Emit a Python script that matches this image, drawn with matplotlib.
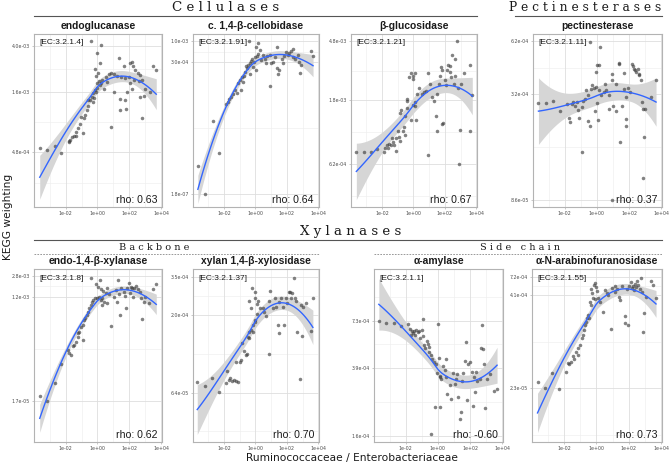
import numpy as np
import matplotlib
matplotlib.use("Agg")
import matplotlib.pyplot as plt
from matplotlib.lines import Line2D

# === Data (log10 of ratio, log10 of KEGG weighting) ===
endoglucanase_pts = [(-3.62, -3.28), (-3.15, -3.30), (-2.69, -3.26), (-2.28, -3.32), (-1.80, -3.22), (-1.70, -3.21),
    (-1.61, -3.19), (-1.49, -3.18), (-1.33, -3.18), (-1.76, -3.23), (-1.24, -3.11), (-1.35, -3.14), (-0.93, -3.15),
    (-1.10, -3.07), (-1.04, -3.01), (-0.87, -3.02), (-0.79, -3.00), (-0.66, -2.95), (-0.58, -2.92), (-0.62, -2.87),
    (-0.46, -2.87), (-0.37, -2.84), (-0.25, -2.81), (-0.10, -2.80), (-0.17, -2.78), (0.00, -2.76), (0.17, -2.74),
    (0.25, -2.72), (0.10, -2.70), (-0.04, -2.72), (0.31, -2.69), (-0.10, -2.66), (0.04, -2.63), (-0.17, -2.60),
    (0.17, -2.55), (0.00, -2.46), (0.21, -2.39), (-0.39, -2.36), (0.52, -2.67), (0.72, -2.64), (0.83, -2.63),
    (1.04, -2.64), (1.24, -2.66), (1.49, -2.67), (0.62, -2.71), (0.41, -2.77), (1.04, -2.80), (0.83, -3.10),
    (1.37, -2.50), (1.66, -2.57), (1.76, -2.68), (1.97, -2.67), (2.07, -2.55), (2.17, -2.54), (2.24, -2.57),
    (2.38, -2.61), (2.53, -2.63), (2.69, -2.65), (2.80, -2.69), (2.28, -2.69), (2.07, -2.72), (2.17, -2.77),
    (1.86, -2.80), (1.41, -2.86), (1.76, -2.87), (1.41, -2.95), (1.80, -2.94), (2.77, -3.02), (2.69, -2.84),
    (2.90, -2.83), (3.00, -2.77), (3.31, -2.80), (3.48, -2.57), (3.69, -2.61), (2.59, -2.70), (-0.21, -2.85),
    (-0.31, -2.88)]
cellobidase_pts = [(-3.67, -6.05), (-3.19, -6.73), (-2.73, -4.96), (-2.31, -5.75), (-1.87, -4.55), (-1.78, -4.49),
    (-1.66, -4.41), (-1.57, -4.37), (-1.45, -4.29), (-1.30, -4.20), (-1.19, -4.27), (-1.09, -4.04), (-0.99, -3.96),
    (-0.88, -3.89), (-0.73, -3.86), (-0.82, -4.00), (-0.94, -4.19), (-0.67, -3.75), (-0.57, -3.67), (-0.61, -3.61),
    (-0.46, -3.59), (-0.36, -3.53), (-0.27, -3.48), (-0.19, -3.45), (-0.10, -3.52), (-0.02, -3.40), (0.10, -3.37),
    (0.19, -3.32), (-0.44, -3.00), (0.17, -3.06), (0.02, -3.16), (0.27, -3.22), (0.38, -3.47), (0.06, -3.71),
    (0.59, -3.43), (0.73, -3.37), (0.90, -3.34), (0.90, -4.11), (1.15, -3.51), (1.24, -3.39), (1.36, -3.14),
    (1.36, -3.65), (1.53, -3.71), (1.43, -3.80), (1.70, -3.45), (1.84, -3.37), (1.95, -3.26), (2.05, -3.34),
    (2.16, -3.30), (2.26, -3.24), (2.37, -3.20), (2.41, -3.39), (2.54, -3.43), (2.68, -3.34), (2.75, -3.51),
    (2.83, -3.78), (2.89, -3.59), (3.52, -3.24), (3.67, -3.37), (1.74, -3.55), (1.01, -3.55), (0.48, -3.34),
    (0.69, -3.55), (-0.15, -3.63), (-0.36, -3.80)]
glucosidase_pts = [(-3.64, -3.12), (-3.16, -3.12), (-2.69, -3.12), (-2.32, -3.10), (-1.89, -3.12), (-1.81, -3.09),
    (-1.68, -3.07), (-1.60, -3.09), (-1.54, -3.06), (-1.43, -3.07), (-1.33, -3.05), (-1.22, -3.07), (-1.12, -3.11),
    (-1.39, -3.02), (-1.12, -3.02), (-0.91, -3.01), (-0.97, -2.97), (-0.84, -3.04), (-0.69, -2.97), (-0.55, -3.00),
    (-0.59, -2.94), (-0.84, -2.84), (-0.80, -2.82), (-0.55, -2.86), (-0.38, -2.80), (-0.42, -2.75), (-0.38, -2.74),
    (-0.27, -2.58), (-0.17, -2.55), (-0.06, -2.59), (0.00, -2.57), (0.08, -2.55), (-0.13, -2.89), (0.15, -2.89),
    (0.00, -2.78), (0.08, -2.79), (0.21, -2.70), (0.08, -2.76), (0.36, -2.66), (0.57, -2.70), (0.67, -2.69),
    (0.78, -2.68), (0.93, -2.55), (0.93, -3.14), (1.05, -2.63), (1.20, -2.72), (1.31, -2.75), (1.41, -2.86),
    (1.52, -2.70), (1.62, -2.63), (1.68, -2.57), (1.77, -2.51), (1.83, -2.92), (1.89, -2.91), (1.47, -2.97),
    (1.83, -2.53), (2.04, -2.60), (2.15, -2.53), (2.19, -2.49), (2.32, -2.50), (2.40, -2.58), (2.46, -2.42),
    (2.57, -2.63), (2.63, -2.45), (2.67, -2.57), (2.78, -2.32), (2.82, -2.66), (2.88, -3.21), (2.99, -2.96),
    (3.03, -2.63), (3.20, -2.55), (3.58, -2.49), (3.58, -2.97), (3.75, -2.71), (2.36, -2.54), (2.10, -2.64)]
pectinesterase_pts = [(-3.64, -3.542), (-3.16, -3.542), (-2.74, -3.528), (-2.32, -3.585), (-1.89, -3.549),
    (-1.75, -3.621), (-1.68, -3.645), (-1.58, -3.549), (-1.47, -3.537), (-1.37, -3.560), (-1.26, -3.537),
    (-1.16, -3.578), (-1.12, -3.621), (-0.95, -3.807), (-0.91, -3.564), (-0.84, -3.528), (-0.74, -3.518),
    (-0.69, -3.470), (-0.57, -3.636), (-0.53, -3.500), (-0.42, -3.212), (-0.42, -3.663), (-0.36, -3.464),
    (-0.32, -3.446), (-0.21, -3.459), (-0.11, -3.587), (-0.06, -3.455), (0.00, -3.542), (-0.06, -3.374),
    (0.00, -3.338), (0.11, -3.338), (0.06, -3.632), (0.21, -3.242), (0.15, -3.473), (0.27, -3.500), (0.42, -3.482),
    (0.53, -3.437), (0.59, -3.473), (0.74, -3.573), (0.95, -3.383), (0.95, -3.416), (0.99, -3.555), (0.91, -4.066),
    (1.20, -3.582), (1.37, -3.324), (1.37, -3.333), (1.41, -3.753), (1.54, -3.555), (1.68, -3.379), (1.68, -3.464),
    (1.79, -3.627), (1.83, -3.663), (1.96, -3.459), (2.04, -3.482), (2.17, -3.329), (2.25, -3.343), (2.32, -3.356),
    (2.38, -3.365), (2.46, -3.374), (2.53, -3.361), (2.59, -3.383), (2.63, -3.392), (2.74, -3.416), (2.80, -3.537),
    (2.84, -3.573), (2.88, -3.943), (2.95, -3.722), (3.01, -3.573), (3.37, -3.510), (3.68, -3.416), (1.79, -3.510),
    (1.16, -3.437), (0.74, -3.500)]
xylanase_pts = [(-3.62, -4.68), (-3.15, -4.77), (-2.69, -4.44), (-2.28, -4.12), (-1.82, -3.87), (-1.76, -3.91),
    (-1.66, -3.96), (-1.55, -3.79), (-1.45, -3.77), (-1.35, -3.72), (-1.20, -3.63), (-1.24, -3.57), (-1.14, -3.54),
    (-0.93, -3.69), (-1.04, -3.45), (-0.93, -3.42), (-0.83, -3.33), (-0.79, -3.30), (-0.66, -3.25), (-0.58, -3.19),
    (-0.52, -3.12), (-0.41, -3.07), (-0.37, -3.01), (-0.25, -2.98), (-0.17, -2.95), (-0.04, -2.94), (0.10, -2.92),
    (0.21, -2.98), (0.31, -2.95), (0.41, -3.02), (-0.41, -2.58), (-0.10, -2.70), (0.04, -2.74), (0.17, -2.62),
    (0.25, -2.78), (0.37, -2.82), (0.52, -2.86), (0.62, -2.77), (0.72, -2.88), (0.83, -3.44), (1.04, -2.92),
    (1.14, -2.80), (1.28, -2.62), (1.35, -2.88), (1.41, -3.25), (1.49, -2.76), (1.66, -2.84), (1.76, -2.90),
    (1.82, -3.12), (1.86, -2.77), (1.97, -2.68), (2.03, -2.86), (2.11, -2.74), (2.24, -2.92), (2.32, -2.77),
    (2.44, -2.73), (2.53, -2.78), (2.65, -2.83), (2.73, -2.95), (2.80, -3.32), (2.90, -3.01), (3.00, -2.92),
    (3.21, -3.04), (3.48, -2.78), (3.69, -2.70), (1.24, -3.01), (0.62, -3.04), (0.31, -3.06), (2.17, -2.77)]
xylosidase_pts = [(-3.71, -4.128), (-3.22, -4.149), (-2.74, -4.098), (-2.32, -4.192), (-1.89, -4.134),
    (-1.81, -4.055), (-1.68, -4.113), (-1.60, -4.102), (-1.47, -4.119), (-1.39, -4.113), (-1.26, -4.119),
    (-1.12, -4.123), (-1.22, -4.000), (-1.01, -4.000), (-0.91, -3.985), (-0.84, -3.878), (-0.76, -3.927),
    (-0.63, -3.953), (-0.55, -3.949), (-0.48, -3.836), (-0.42, -3.846), (-0.38, -3.804), (-0.27, -3.793),
    (-0.17, -3.761), (-0.13, -3.804), (-0.06, -3.740), (0.00, -3.729), (0.08, -3.693), (-0.27, -3.654),
    (-0.38, -3.607), (-0.21, -3.526), (-0.06, -3.548), (0.00, -3.590), (0.08, -3.629), (0.17, -3.607),
    (0.29, -3.650), (0.46, -3.654), (0.57, -3.676), (0.67, -3.701), (0.88, -3.949), (0.93, -3.543), (1.09, -3.654),
    (1.26, -3.590), (1.41, -3.761), (1.47, -3.814), (1.52, -3.616), (1.62, -3.590), (1.73, -3.644), (1.83, -3.761),
    (1.94, -3.590), (2.04, -3.622), (2.11, -3.548), (2.19, -3.552), (2.25, -3.590), (2.36, -3.558), (2.46, -3.458),
    (2.53, -3.590), (2.61, -3.607), (2.67, -3.804), (2.82, -4.106), (2.88, -3.633), (2.95, -3.829), (3.03, -3.644),
    (3.20, -3.622), (3.52, -3.799), (3.66, -3.586), (1.31, -3.644), (0.84, -3.607)]
amylase_pts = [(-3.68, -3.141), (-3.22, -3.150), (-2.74, -3.150), (-2.32, -3.169), (-1.89, -3.156), (-1.75, -3.183),
    (-1.68, -3.217), (-1.62, -3.198), (-1.54, -3.207), (-1.47, -3.194), (-1.41, -3.217), (-1.37, -3.188),
    (-1.26, -3.202), (-1.16, -3.194), (-1.12, -3.239), (-0.99, -3.188), (-0.95, -3.126), (-0.91, -3.226),
    (-0.84, -3.274), (-0.78, -3.296), (-0.69, -3.251), (-0.63, -3.270), (-0.57, -3.289), (-0.53, -3.315),
    (-0.42, -3.334), (-0.36, -3.359), (-0.27, -3.372), (-0.21, -3.630), (-0.15, -3.387), (-0.06, -3.435),
    (0.00, -3.156), (0.06, -3.350), (0.11, -3.454), (0.15, -3.460), (-0.42, -3.786), (0.15, -3.630), (0.21, -3.473),
    (0.32, -3.397), (0.42, -3.422), (0.53, -3.359), (0.59, -3.558), (0.74, -3.505), (0.84, -3.587), (0.95, -3.435),
    (1.12, -3.473), (1.20, -3.444), (1.26, -3.573), (1.37, -3.701), (1.41, -3.663), (1.47, -3.486), (1.58, -3.435),
    (1.68, -3.369), (1.75, -3.258), (1.83, -3.592), (1.89, -3.384), (2.00, -3.372), (2.11, -3.429), (2.17, -3.625),
    (2.25, -3.460), (2.32, -3.549), (2.38, -3.429), (2.46, -3.486), (2.59, -3.473), (2.67, -3.293), (2.74, -3.164),
    (2.80, -3.302), (2.84, -3.387), (2.95, -3.638), (3.05, -3.473), (3.22, -3.441), (3.52, -3.539), (3.68, -3.530),
    (1.05, -3.501), (0.53, -3.463)]
arabinofuranosidase_pts = [(-3.64, -4.548), (-3.16, -4.637), (-2.74, -4.436), (-2.32, -4.646), (-1.89, -4.414),
    (-1.75, -4.302), (-1.68, -4.316), (-1.58, -4.289), (-1.47, -4.200), (-1.37, -4.244), (-1.26, -4.146),
    (-1.16, -4.191), (-1.12, -4.101), (-0.99, -4.057), (-0.91, -3.967), (-0.84, -3.923), (-0.78, -3.856),
    (-0.69, -3.789), (-0.63, -3.744), (-0.57, -3.691), (-0.53, -3.655), (-0.48, -3.700), (-0.42, -3.476),
    (-0.36, -3.307), (-0.27, -3.365), (-0.21, -3.432), (-0.15, -3.253), (-0.06, -3.231), (0.00, -3.275),
    (0.06, -3.333), (0.11, -3.423), (0.21, -3.476), (-0.06, -3.441), (-0.32, -3.521), (0.42, -3.619), (0.53, -3.320),
    (0.63, -3.365), (0.74, -3.387), (0.91, -3.842), (0.99, -3.298), (1.12, -3.342), (1.26, -3.307), (1.37, -3.409),
    (1.47, -3.454), (1.58, -3.262), (1.75, -3.664), (1.79, -3.766), (1.89, -3.307), (1.96, -3.789), (2.00, -3.262),
    (2.11, -3.208), (2.17, -3.298), (2.25, -3.262), (2.32, -3.320), (2.38, -3.244), (2.46, -3.275), (2.53, -3.199),
    (2.59, -3.253), (2.67, -3.307), (2.74, -3.164), (2.84, -3.342), (2.88, -3.887), (2.95, -3.633), (3.05, -3.409),
    (3.37, -3.199), (3.52, -3.253), (3.68, -3.423), (1.16, -3.262)]

titles = ["endoglucanase", "c. 1,4-\u03b2-cellobidase", "\u03b2-glucosidase", "pectinesterase",
          "endo-1,4-\u03b2-xylanase", "xylan 1,4-\u03b2-xylosidase", "\u03b1-amylase", "\u03b1-N-arabinofuranosidase"]
ec_labels = ["[EC:3.2.1.4]", "[EC:3.2.1.91]", "[EC:3.2.1.21]", "[EC:3.2.1.11]",
             "[EC:3.2.1.8]", "[EC:3.2.1.37]", "[EC:3.2.1.1]", "[EC:3.2.1.55]"]
rho_labels = ["rho: 0.63", "rho: 0.64", "rho: 0.67", "rho: 0.37", "rho: 0.62", "rho: 0.70", "rho: -0.60", "rho: 0.73"]
y_ticks = [[4.8e-4, 1.6e-3, 4.0e-3], [1.8e-7, 3.0e-4, 1.0e-3], [6.2e-4, 1.8e-3, 4.8e-3], [8.6e-5, 3.2e-4, 6.2e-4],
           [1.7e-5, 1.2e-3, 2.8e-3], [6.4e-5, 2.0e-4, 3.5e-4], [1.6e-4, 3.9e-4, 7.3e-4], [2.3e-5, 4.1e-4, 7.2e-4]]
x_ticks = [1e-2, 1e0, 1e2, 1e4]

# === Layout (pixels, top-left origin) ===
W, H = 669, 465
ylims = [(-3.79, -2.297), (-7.06, -2.83), (-3.518, -2.268), (-4.101, -3.170),
         (-5.494, -2.429), (-4.509, -3.403), (-3.833, -2.841), (-5.356, -3.039)]
XLIM = (-3.98, 4.05)
boxes = [(34, 162, 34, 207), (193, 319, 34, 207), (351, 477, 34, 207), (533, 662, 34, 207),
         (34, 162, 269, 442), (193, 319, 269, 442), (374, 503, 269, 442), (532, 662, 269, 442)]
panels = [endoglucanase_pts, cellobidase_pts, glucosidase_pts, pectinesterase_pts,
          xylanase_pts, xylosidase_pts, amylase_pts, arabinofuranosidase_pts]

SANS = ["Liberation Sans", "DejaVu Sans"]
NARROW = ["Liberation Sans Narrow", "Liberation Sans", "DejaVu Sans"]
SPAN = 1.0


def fx(px):
    return px / W


def fy(py):
    return 1 - py / H


def loess(x, y, xe, span=SPAN):
    # local quadratic with tricube weights (R loess style)
    n = len(x)
    q = min(n, int(np.floor(n * span)))

    def rows(x0s):
        L = np.zeros((len(x0s), n))
        for i, x0 in enumerate(x0s):
            d = np.abs(x - x0)
            h = np.sort(d)[q - 1] * max(1.0, span) * 1.0001
            w = np.clip(1 - (d / h) ** 3, 0, None) ** 3
            X = np.column_stack([np.ones(n), x - x0, (x - x0) ** 2])
            XtW = X.T * w
            L[i] = np.linalg.solve(XtW @ X, XtW)[0]
        return L

    Le = rows(xe)
    Ld = rows(x)
    res = y - Ld @ y
    M = np.eye(n) - Ld
    s = np.sqrt(res @ res / np.trace(M.T @ M))
    return Le @ y, s * np.sqrt((Le ** 2).sum(1))


def minor_breaks(b, lim):
    b = list(b)
    if lim[0] < b[0]:
        b = [b[0] - (b[1] - b[0])] + b
    if lim[1] > b[-1]:
        b = b + [b[-1] + (b[-1] - b[-2])]
    mids = [(a + c) / 2 for a, c in zip(b[:-1], b[1:])]
    return [m for m in mids if lim[0] < m < lim[1]]


fig = plt.figure(figsize=(W / 100, H / 100), dpi=100)

for i, pts in enumerate(panels):
    L, R, T, B = boxes[i]
    ax = fig.add_axes([fx(L), fy(B), fx(R - L), (B - T) / H])
    lx = np.array([p[0] for p in pts])
    ly = np.array([p[1] for p in pts])

    # grid
    xl = np.log10(x_ticks)
    yl = np.log10(y_ticks[i])
    for v in minor_breaks(xl, XLIM):
        ax.axvline(10 ** v, color="#ededed", lw=0.4, zorder=0)
    for v in minor_breaks(yl, ylims[i]):
        ax.axhline(10 ** v, color="#ededed", lw=0.4, zorder=0)
    for v in xl:
        ax.axvline(10 ** v, color="#dedede", lw=0.6, zorder=0)
    for v in yl:
        ax.axhline(10 ** v, color="#dedede", lw=0.6, zorder=0)

    # smooth
    xe = np.linspace(lx.min(), lx.max(), 80)
    fit, se = loess(lx, ly, xe)
    ax.fill_between(10 ** xe, 10 ** (fit - 2.0 * se), 10 ** (fit + 2.0 * se), color="#d6d6d6", lw=0, zorder=1)
    ax.scatter(10 ** lx, 10 ** ly, s=6.5, color="#3f3f3f", alpha=0.65, lw=0, zorder=2)
    ax.plot(10 ** xe, 10 ** fit, color="#3366FF", lw=1.0, zorder=3)

    ax.set_xscale("log")
    ax.set_yscale("log")
    ax.set_xlim(10 ** XLIM[0], 10 ** XLIM[1])
    ax.set_ylim(10 ** ylims[i][0], 10 ** ylims[i][1])
    ax.set_xticks(x_ticks)
    ax.set_xticklabels(["%.0e" % v for v in x_ticks])
    ax.set_yticks(y_ticks[i])
    ax.set_yticklabels(["%.1e" % v for v in y_ticks[i]])
    ax.minorticks_off()
    ax.tick_params(length=1.6, width=0.5, color="#b3b3b3", labelsize=3.4, labelcolor="#4d4d4d", pad=1.2)
    for sp in ax.spines.values():
        sp.set_color("#b3b3b3")
        sp.set_linewidth(0.8)

    w_px, h_px = R - L, B - T
    ax.text(5 / w_px, 1 - 9 / h_px, ec_labels[i], transform=ax.transAxes, fontsize=6,
            family=NARROW, va="center", ha="left", color="#1a1a1a")
    ax.text(1 - 5 / w_px, 7.5 / h_px, rho_labels[i], transform=ax.transAxes, fontsize=7.6,
            family=NARROW, va="center", ha="right", color="#1a1a1a")
    fig.text(fx((L + R) / 2), fy(T - 8), titles[i], fontsize=7.4, fontweight="bold", family=SANS,
             ha="center", va="center", color="#1a1a1a")

# === Section headers ===
SERIF = ["DejaVu Serif"]
fig.text(fx(226), fy(7.5), "C e l l u l a s e s", family=SERIF, fontsize=9.6, ha="center", va="center",
         color="#1a1a1a")
fig.text(fx(661), fy(7.5), "P e c t i n e s t e r a s e s", family=SERIF, fontsize=8.8, ha="right", va="center",
         color="#1a1a1a")
fig.text(fx(351), fy(231.5), "X y l a n a s e s", family=SERIF, fontsize=9.6, ha="center", va="center",
         color="#1a1a1a")
fig.text(fx(154), fy(247.5), "B a c k b o n e", family=SERIF, fontsize=7, ha="center", va="center", color="#1a1a1a")
fig.text(fx(520), fy(247.5), "S i d e   c h a i n", family=SERIF, fontsize=7, ha="center", va="center",
         color="#1a1a1a")

for x0, x1, yy, ls in [(34, 477, 16, "-"), (515, 662, 16, "-"), (34, 662, 240, "-"),
                       (34, 319, 254, (0, (2, 1.5))), (374, 662, 254, (0, (2, 1.5)))]:
    fig.add_artist(Line2D([fx(x0), fx(x1)], [fy(yy), fy(yy)], transform=fig.transFigure,
                          color="#555555" if ls == "-" else "#888888", lw=0.8 if ls == "-" else 0.6, linestyle=ls))

fig.text(fx(352), fy(458), "Ruminococcaceae / Enterobacteriaceae", family=["DejaVu Sans"], fontsize=7.7,
         ha="center", va="center", color="#1a1a1a")
fig.text(fx(8), fy(217), "KEGG weighting", family=["DejaVu Sans"], fontsize=7.7, rotation=90,
         ha="center", va="center", color="#1a1a1a")

fig.savefig("out.png", dpi=100)
